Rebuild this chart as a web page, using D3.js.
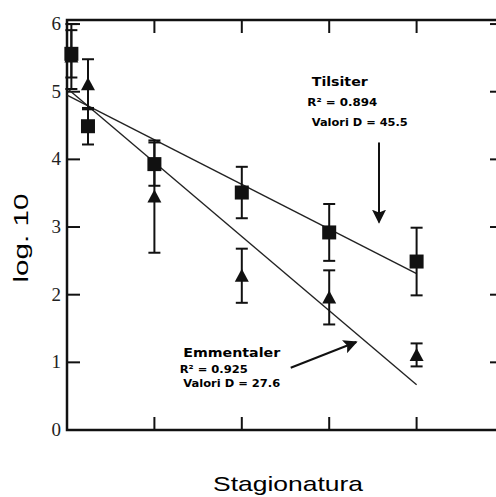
<!DOCTYPE html>
<html>
<head>
<meta charset="utf-8">
<script src="https://cdn.jsdelivr.net/npm/d3@7"></script>
<style>
  body { margin: 0; background: #fff; }
</style>
</head>
<body>
<div id="chart"></div>
<script>
// stagionatura positions (x units) and log10 counts
const times = [0.05, 0.24, 1, 2, 3, 4];
const tilsiter = [5.56, 4.49, 3.93, 3.51, 2.92, 2.49];
const tilsiterErr = [0.35, 0.27, 0.32, 0.38, 0.42, 0.5];
const emmentaler = [5.52, 5.11, 3.45, 2.28, 1.96, 1.11];
const emmentalerErr = [0.48, 0.37, 0.83, 0.4, 0.4, 0.17];
const tilsiterFit = [[0, 4.95], [4, 2.31]];
const emmentalerFit = [[0, 5.05], [4, 0.67]];
const yTicks = [0, 1, 2, 3, 4, 5, 6];
const xTicks = [1, 2, 3, 4];

const width = 496;
const height = 497;

const x = d3.scaleLinear().domain([0, 5]).range([67, 504]);
const y = d3.scaleLinear().domain([0, 6.06]).range([430, 20]);

const svg = d3.select('#chart')
  .append('svg')
  .attr('width', width)
  .attr('height', height);

const ink = '#111';

// frame
svg.append('rect')
  .attr('x', x(0))
  .attr('y', y(6.06))
  .attr('width', x(5) - x(0))
  .attr('height', y(0) - y(6.06))
  .attr('fill', 'none')
  .attr('stroke', ink)
  .attr('stroke-width', 2.5);

// inward ticks on all four sides
const tickLen = 13;
svg.append('g')
  .selectAll('line')
  .data(xTicks)
  .enter()
  .append('line')
  .attr('x1', d => x(d)).attr('x2', d => x(d))
  .attr('y1', y(0)).attr('y2', y(0) - tickLen)
  .attr('stroke', ink).attr('stroke-width', 2);

svg.append('g')
  .selectAll('line')
  .data(xTicks)
  .enter()
  .append('line')
  .attr('x1', d => x(d)).attr('x2', d => x(d))
  .attr('y1', y(6.06)).attr('y2', y(6.06) + tickLen)
  .attr('stroke', ink).attr('stroke-width', 2);

svg.append('g')
  .selectAll('line')
  .data(yTicks.slice(1))
  .enter()
  .append('line')
  .attr('x1', x(0)).attr('x2', x(0) + tickLen)
  .attr('y1', d => y(d)).attr('y2', d => y(d))
  .attr('stroke', ink).attr('stroke-width', 2);

svg.append('g')
  .selectAll('line')
  .data(yTicks.slice(1))
  .enter()
  .append('line')
  .attr('x1', x(5)).attr('x2', x(5) - tickLen - 1)
  .attr('y1', d => y(d)).attr('y2', d => y(d))
  .attr('stroke', ink).attr('stroke-width', 2);

svg.append('g')
  .selectAll('text')
  .data(yTicks)
  .enter()
  .append('text')
  .attr('x', 61)
  .attr('y', d => y(d) + 6)
  .attr('text-anchor', 'end')
  .attr('font-family', 'Liberation Serif')
  .attr('font-size', '19px')
  .attr('fill', '#222')
  .text(d => d);

// axis titles
svg.append('text')
  .attr('x', 288)
  .attr('y', 491)
  .attr('text-anchor', 'middle')
  .attr('font-family', 'Liberation Sans, Arial')
  .attr('font-size', '21px')
  .attr('textLength', 150)
  .attr('lengthAdjust', 'spacingAndGlyphs')
  .text('Stagionatura');

svg.append('text')
  .attr('transform', 'translate(28, 238) rotate(-90)')
  .attr('text-anchor', 'middle')
  .attr('font-family', 'Liberation Sans, Arial')
  .attr('font-size', '21px')
  .attr('textLength', 89)
  .attr('lengthAdjust', 'spacingAndGlyphs')
  .text('log. 10');

// regression lines
const line = d3.line().x(d => x(d[0])).y(d => y(d[1]));
[tilsiterFit, emmentalerFit].forEach((fit) => {
  svg.append('path')
    .datum(fit)
    .attr('d', line)
    .attr('fill', 'none')
    .attr('stroke', '#222')
    .attr('stroke-width', 1.4);
});

// error bars
function errorBars(values, errs) {
  const g = svg.append('g')
    .selectAll('g')
    .data(times.map((t, i) => ({ t, v: values[i], e: errs[i] })))
    .enter()
    .append('g')
    .attr('stroke', ink)
    .attr('stroke-width', 2);
  g.append('line')
    .attr('x1', d => x(d.t)).attr('x2', d => x(d.t))
    .attr('y1', d => y(d.v - d.e)).attr('y2', d => y(d.v + d.e));
  g.append('line')
    .attr('x1', d => x(d.t) - 6).attr('x2', d => x(d.t) + 6)
    .attr('y1', d => y(d.v + d.e)).attr('y2', d => y(d.v + d.e));
  g.append('line')
    .attr('x1', d => x(d.t) - 6).attr('x2', d => x(d.t) + 6)
    .attr('y1', d => y(d.v - d.e)).attr('y2', d => y(d.v - d.e));
}
errorBars(emmentaler, emmentalerErr);
errorBars(tilsiter, tilsiterErr);

// triangles (Emmentaler)
svg.append('g')
  .selectAll('path')
  .data(times.map((t, i) => [t, emmentaler[i]]))
  .enter()
  .append('path')
  .attr('d', d => {
    const cx = x(d[0]);
    const cy = y(d[1]);
    return `M${cx},${cy - 7}L${cx + 7},${cy + 6}L${cx - 7},${cy + 6}Z`;
  })
  .attr('fill', ink);

// squares (Tilsiter)
svg.append('g')
  .selectAll('rect')
  .data(times.map((t, i) => [t, tilsiter[i]]))
  .enter()
  .append('rect')
  .attr('x', d => x(d[0]) - 7)
  .attr('y', d => y(d[1]) - 7)
  .attr('width', 14)
  .attr('height', 14)
  .attr('fill', ink);

// annotations
function note(tx, lines) {
  lines.forEach((l, i) => {
    svg.append('text')
      .attr('x', x(tx + (l.dx || 0)))
      .attr('y', y(l.y))
      .attr('font-family', 'DejaVu Sans')
      .attr('font-weight', 'bold')
      .attr('font-size', i === 0 ? '13px' : '10px')
      .attr('fill', '#000')
      .attr('textLength', l.w)
      .attr('lengthAdjust', 'spacingAndGlyphs')
      .text(l.text);
  });
}
note(2.8, [
  { text: 'Tilsiter', y: 5.08, w: 56 },
  { text: 'R² = 0.894', y: 4.79, w: 70, dx: -0.05 },
  { text: 'Valori D = 45.5', y: 4.49, w: 96 },
]);
note(1.33, [
  { text: 'Emmentaler', y: 1.08, w: 97 },
  { text: 'R² = 0.925', y: 0.845, w: 68, dx: -0.04 },
  { text: 'Valori D = 27.6', y: 0.64, w: 97 },
]);

svg.append('defs').append('marker')
  .attr('id', 'head')
  .attr('viewBox', '0 0 10 10')
  .attr('refX', 9)
  .attr('refY', 5)
  .attr('markerWidth', 7)
  .attr('markerHeight', 7)
  .attr('markerUnits', 'strokeWidth')
  .attr('orient', 'auto')
  .append('path')
  .attr('d', 'M0,0L10,5L0,10L2,5Z')
  .attr('fill', ink);

const arrows = [
  [[3.57, 4.25], [3.57, 3.07]],
  [[2.56, 0.92], [3.31, 1.3]],
];
svg.append('g')
  .selectAll('path')
  .data(arrows)
  .enter()
  .append('path')
  .attr('d', line)
  .attr('fill', 'none')
  .attr('stroke', ink)
  .attr('stroke-width', 2)
  .attr('marker-end', 'url(#head)');
</script>
</body>
</html>
